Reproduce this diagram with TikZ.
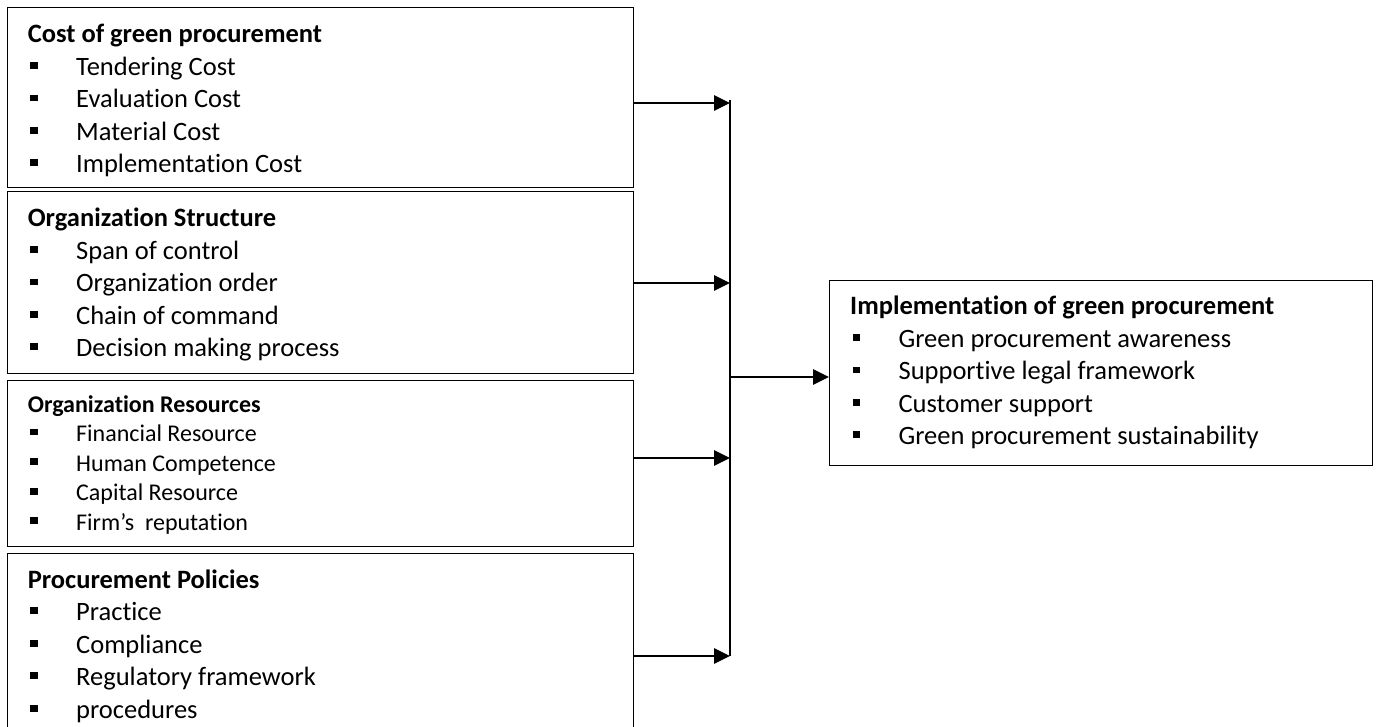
\documentclass[tikz,border=0pt]{standalone}
\usepackage{fontspec}
\setmainfont{Carlito}[Ligatures=NoCommon]
\usetikzlibrary{arrows.meta}
\newcommand\bul{\makebox[48.4pt][l]{\hspace{2.5pt}\rule[6.3pt]{7.5pt}{6.8pt}}}
\newcommand\bigtxt{\fontsize{26.5}{32.4}\selectfont}
\newcommand\smalltxt{\fontsize{24}{29.6}\selectfont}
\tikzset{
  box/.style={draw=black, line width=1.3pt, rectangle, anchor=north west, inner sep=0pt},
  txt/.style={anchor=base west, inner sep=0pt, align=left, text=black},
  feed/.style={line width=2.8pt, -{Triangle[length=16pt,width=15pt]}},
  bus/.style={line width=1.3pt}
}
\begin{document}
\begin{tikzpicture}[x=1pt,y=-1pt]
\useasboundingbox (0,0) rectangle (1379,727);
\clip (0,0) rectangle (1379,727);
\fill[white] (0,0) rectangle (1379,727);

% boxes
\node[box, minimum width=626pt, minimum height=180pt] (b1) at (7,7) {};
\node[box, minimum width=626pt, minimum height=182pt] (b2) at (7,191) {};
\node[box, minimum width=626pt, minimum height=166pt] (b3) at (7,380) {};
\node[box, minimum width=626pt, minimum height=200pt] (b4) at (7,553) {};
\node[box, minimum width=543pt, minimum height=185pt] (r) at (829,280) {};

% texts
\node[txt, font=\bigtxt] (t1) at (27.6,43) {\begin{tabular}[t]{@{}l@{}}
\textbf{Cost of green procurement}\\
\bul Tendering Cost\\
\bul Evaluation Cost\\
\bul Material Cost\\
\bul Implementation Cost
\end{tabular}};

\node[txt, font=\bigtxt] (t2) at (27.6,227) {\begin{tabular}[t]{@{}l@{}}
\textbf{Organization Structure}\\
\bul Span of control\\
\bul Organization order\\
\bul Chain of command\\
\bul Decision making process
\end{tabular}};

\node[txt, font=\smalltxt] (t3) at (27.6,412) {\begin{tabular}[t]{@{}l@{}}
\textbf{Organization Resources}\\
\bul Financial Resource\\
\bul Human Competence\\
\bul Capital Resource\\
\bul Firm’s\ \ reputation
\end{tabular}};

\node[txt, font=\fontsize{26.5}{32.5}\selectfont] (t4) at (27.6,588) {\begin{tabular}[t]{@{}l@{}}
\textbf{Procurement Policies}\\
\bul Practice\\
\bul Compliance\\
\bul Regulatory framework\\
\bul procedures
\end{tabular}};

\node[txt, font=\bigtxt] (tr) at (850,315) {\begin{tabular}[t]{@{}l@{}}
\textbf{Implementation of green procurement}\\
\bul Green procurement awareness\\
\bul Supportive legal framework\\
\bul Customer support\\
\bul Green procurement sustainability
\end{tabular}};

% junction points on the bus
\coordinate (j1) at (730,103);
\coordinate (j2) at (730,283);
\coordinate (j3) at (730,458);
\coordinate (j4) at (730,656);
\coordinate (jm) at (731,377);

% connectors
\draw[bus] ([yshift=3pt]j1) -- (j4);
\draw[feed] (b1.east |- j1) -- (j1);
\draw[feed] (b2.east |- j2) -- (j2);
\draw[feed] (b3.east |- j3) -- (j3);
\draw[feed] (b4.east |- j4) -- (j4);
\draw[feed] (jm) -- (r.west |- jm);
\end{tikzpicture}
\end{document}
